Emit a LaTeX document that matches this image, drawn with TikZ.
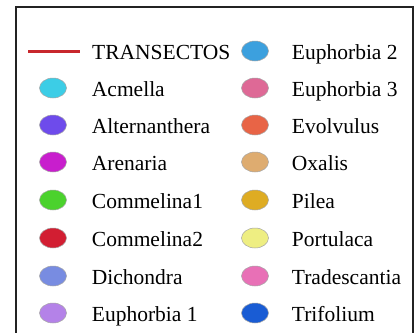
\documentclass[tikz,border=0pt]{standalone}
\usepackage{fontspec}
\setmainfont{Liberation Serif}
\newfontfamily\legendfont{Liberation Serif}
\usetikzlibrary{positioning, shapes.geometric}
\definecolor{frameInk}{RGB}{35,35,35}
\definecolor{transectRed}{RGB}{200,40,45}
\definecolor{acmellaFill}{RGB}{60,205,230}
\definecolor{alternFill}{RGB}{110,75,235}
\definecolor{arenariaFill}{RGB}{200,30,205}
\definecolor{commelinaAFill}{RGB}{75,210,45}
\definecolor{commelinaBFill}{RGB}{210,30,50}
\definecolor{dichondraFill}{RGB}{120,140,225}
\definecolor{euphorbiaAFill}{RGB}{180,130,232}
\definecolor{euphorbiaBFill}{RGB}{60,160,222}
\definecolor{euphorbiaCFill}{RGB}{222,105,150}
\definecolor{evolvulusFill}{RGB}{232,100,70}
\definecolor{oxalisFill}{RGB}{222,172,112}
\definecolor{pileaFill}{RGB}{222,172,35}
\definecolor{portulacaFill}{RGB}{238,238,130}
\definecolor{tradescantiaFill}{RGB}{232,112,182}
\definecolor{trifoliumFill}{RGB}{25,92,212}
\tikzset{
  dotNode/.style={
    ellipse,
    draw=gray!70,
    line width=0.5pt,
    minimum width=27pt,
    minimum height=20pt,
    inner sep=0pt
  },
  speciesLabel/.style={
    font=\legendfont\fontsize{21.5}{24}\selectfont,
    inner sep=0pt,
    text height=14pt,
    text depth=0pt,
    yshift=-1pt,
    anchor=west
  },
  frameLine/.style={draw=frameInk, line width=1.8pt},
  transectLine/.style={draw=transectRed, line width=3pt}
}
\begin{document}
\begin{tikzpicture}[x=1pt, y=-1pt]
  \useasboundingbox (0,0) rectangle (417,332);
  \fill[white] (0,0) rectangle (417,332);
  \draw[frameLine] (16,333) -- (16,7) -- (413,7) -- (413,333);

  % left column
  \coordinate (transA) at (28,51);
  \coordinate (transB) at (80,51);
  \draw[transectLine] (transA) -- (transB);
  \node[speciesLabel, right=12pt of transB] (transT) {TRANSECTOS};

  \node[dotNode, fill=acmellaFill] (acmella) at (53,88) {};
  \node[dotNode, fill=alternFill] (altern) at (53,125) {};
  \node[dotNode, fill=arenariaFill] (arenaria) at (53,162) {};
  \node[dotNode, fill=commelinaAFill] (commelinaA) at (53,200) {};
  \node[dotNode, fill=commelinaBFill] (commelinaB) at (53,238) {};
  \node[dotNode, fill=dichondraFill] (dichondra) at (53,276) {};
  \node[dotNode, fill=euphorbiaAFill] (euphorbiaA) at (53,313) {};

  \node[speciesLabel, right=25pt of acmella] {Acmella};
  \node[speciesLabel, right=25pt of altern] {Alternanthera};
  \node[speciesLabel, right=25pt of arenaria] {Arenaria};
  \node[speciesLabel, right=25pt of commelinaA] {Commelina1};
  \node[speciesLabel, right=25pt of commelinaB] {Commelina2};
  \node[speciesLabel, right=25pt of dichondra] {Dichondra};
  \node[speciesLabel, right=25pt of euphorbiaA] {Euphorbia 1};

  % right column
  \node[dotNode, fill=euphorbiaBFill] (euphorbiaB) at (255,51) {};
  \node[dotNode, fill=euphorbiaCFill] (euphorbiaC) at (255,88) {};
  \node[dotNode, fill=evolvulusFill] (evolvulus) at (255,125) {};
  \node[dotNode, fill=oxalisFill] (oxalis) at (255,162) {};
  \node[dotNode, fill=pileaFill] (pilea) at (255,200) {};
  \node[dotNode, fill=portulacaFill] (portulaca) at (255,238) {};
  \node[dotNode, fill=tradescantiaFill] (tradescantia) at (255,276) {};
  \node[dotNode, fill=trifoliumFill] (trifolium) at (255,313) {};

  \node[speciesLabel, right=23pt of euphorbiaB] {Euphorbia 2};
  \node[speciesLabel, right=23pt of euphorbiaC] {Euphorbia 3};
  \node[speciesLabel, right=23pt of evolvulus] {Evolvulus};
  \node[speciesLabel, right=23pt of oxalis] {Oxalis};
  \node[speciesLabel, right=23pt of pilea] {Pilea};
  \node[speciesLabel, right=23pt of portulaca] {Portulaca};
  \node[speciesLabel, right=23pt of tradescantia] {Tradescantia};
  \node[speciesLabel, right=23pt of trifolium] {Trifolium};
\end{tikzpicture}
\end{document}
